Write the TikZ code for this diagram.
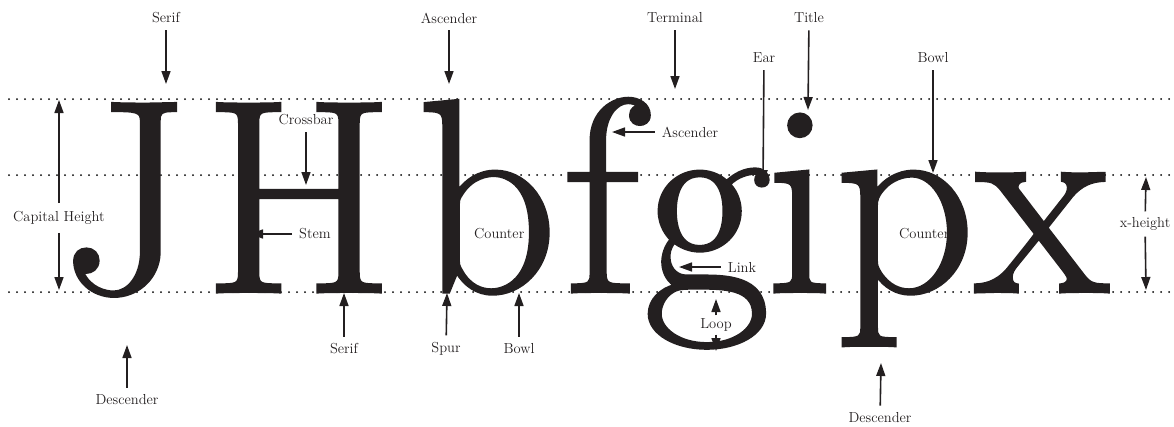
\documentclass[tikz,border=0pt]{standalone}
\usepackage{fontspec}
\usetikzlibrary{arrows.meta}
\definecolor{ink}{HTML}{231F20}
\newfontfamily\specimenfont[FakeBold=1.1]{Latin Modern Roman}
\newcommand{\glyphsize}{\specimenfont\fontsize{276}{276}\selectfont}
\newcommand{\tagsize}{\fontsize{14.5}{16}\selectfont}

\begin{document}
\begin{tikzpicture}[x=1pt,y=-1pt,
  glyph/.style={font=\glyphsize, text=ink, inner sep=0pt, anchor=base},
  tag/.style={font=\tagsize, text=ink, inner sep=2pt},
  guide/.style={draw=black, line width=2pt, line cap=round, dash pattern=on 0pt off 8pt},
  pointer/.style={draw=ink, line width=1.6pt, shorten <=5pt, -{Triangle[length=13pt,width=9pt]}}]
\useasboundingbox (0,0) rectangle (1174,426);
% guide lines: cap height, x-height, baseline
\draw[guide] (9,99) -- (1172,99);
\draw[guide] (9,175) -- (1172,175);
\draw[guide] (9,292) -- (1172,292);
% counters sit behind the letters
\node[tag, anchor=west] (counterb) at (472,234) {Counter};
\node[tag, anchor=west] (counterp) at (897,234) {Counter};
% the specimen letters
\node[glyph] (J) at (125,292) {J};
\node[glyph] (H) at (299,292) {H};
\node[glyph] (b) at (487,292) {b};
\node[glyph] (f) at (601,292) {f};
\node[glyph] (g) at (707,292) {g};
\node[glyph] (i) at (800,292) {i};
\node[glyph] (p) at (905,292) {p};
\node[glyph] (x) at (1042,292) {x};
% labels above
\node[tag] (serifup) at (166,18) {Serif};
\node[tag] (ascb) at (449,18) {Ascender};
\node[tag] (terminal) at (675,18) {Terminal};
\node[tag] (title) at (809,18) {Title};
\node[tag] (ear) at (764,58) {Ear};
\node[tag] (bowlp) at (933,58) {Bowl};
\node[tag] (crossbar) at (306,120) {Crossbar};
\coordinate (serifuptip) at (166,84);
\coordinate (ascbtip) at (449,84);
\coordinate (terminaltip) at (675,89);
\coordinate (titletip) at (808,110);
\coordinate (eartip) at (763,183);
\coordinate (bowlptip) at (933,173);
\coordinate (crossbartip) at (306,185);
\draw[pointer] (serifup) -- (serifuptip);
\draw[pointer] (ascb) -- (ascbtip);
\draw[pointer] (terminal) -- (terminaltip);
\draw[pointer] (title) -- (titletip);
\draw[pointer] (ear) -- (eartip);
\draw[pointer] (bowlp) -- (bowlptip);
\draw[pointer] (crossbar) -- (crossbartip);
% labels at the side
\node[tag] (ascf) at (690,132) {Ascender};
\node[tag] (stem) at (315,234) {Stem};
\node[tag] (link) at (742,267) {Link};
\coordinate (ascftip) at (612,132);
\coordinate (stemtip) at (250,234);
\coordinate (linktip) at (679,267);
\draw[pointer] (ascf) -- (ascftip);
\draw[pointer] (stem) -- (stemtip);
\draw[pointer] (link) -- (linktip);
% labels below
\node[tag] (serifdown) at (344,349) {Serif};
\node[tag] (spur) at (446,349) {Spur};
\node[tag] (bowlb) at (519,349) {Bowl};
\node[tag] (descj) at (127,400) {Descender};
\node[tag] (descp) at (880,418) {Descender};
\coordinate (serifdowntip) at (344,293);
\coordinate (spurtip) at (447,293);
\coordinate (bowlbtip) at (519,293);
\coordinate (descjtip) at (127,345);
\coordinate (descptip) at (881,363);
\draw[pointer] (serifdown) -- (serifdowntip);
\draw[pointer] (spur) -- (spurtip);
\draw[pointer] (bowlb) -- (bowlbtip);
\draw[pointer] (descj) -- (descjtip);
\draw[pointer] (descp) -- (descptip);
% measured spans
\node[tag] (loop) at (716,325) {Loop};
\node[tag] (capheight) at (59,218) {Capital Height};
\node[tag] (xheight) at (1145,224) {x-height};
\coordinate (looptop) at (716,299);
\coordinate (loopbottom) at (716,351);
\coordinate (captop) at (59,100);
\coordinate (capbottom) at (59,290);
\coordinate (xtop) at (1146,177);
\coordinate (xbottom) at (1146,290);
\draw[pointer, shorten <=1pt] (loop) -- (looptop);
\draw[pointer, shorten <=1pt] (loop) -- (loopbottom);
\draw[pointer, shorten <=6pt] (capheight) -- (captop);
\draw[pointer, shorten <=6pt] (capheight) -- (capbottom);
\draw[pointer, shorten <=4pt] (xheight) -- (xtop);
\draw[pointer, shorten <=4pt] (xheight) -- (xbottom);
\end{tikzpicture}
\end{document}
